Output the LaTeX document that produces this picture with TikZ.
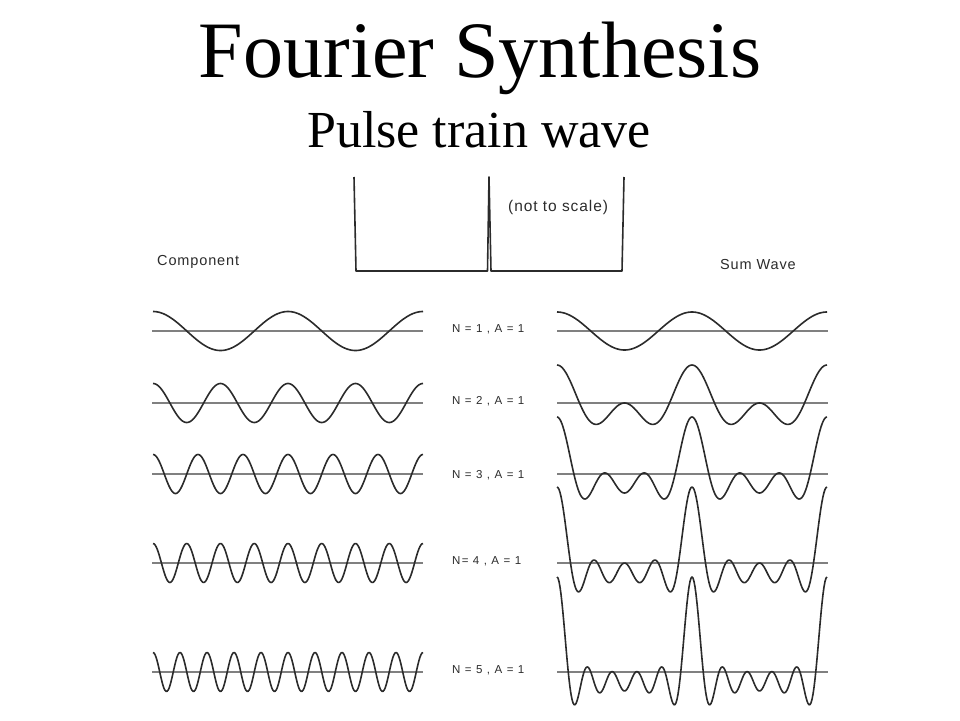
\documentclass[tikz,border=0pt]{standalone}
\usepackage{fontspec}
\setmainfont{Liberation Serif}
\newfontfamily\scanfont[LetterSpace=6]{Liberation Sans}
\newfontfamily\rowfont[LetterSpace=11]{Liberation Sans}
\usepackage{tikz}

\definecolor{ink}{HTML}{2B2B2B}
\definecolor{axisgray}{HTML}{808080}

\begin{document}
\begin{tikzpicture}[x=1pt,y=-1pt]
\tikzset{wave/.style={draw=ink, line width=1.6pt, line join=round},
  axisline/.style={draw=axisgray, line width=1.1pt},
  scanlabel/.style={font=\scanfont\fontsize{14.5}{16}\selectfont, text=ink, inner sep=0pt, anchor=west},
  rowlabel/.style={font=\rowfont\fontsize{11.5}{13}\selectfont, text=ink, inner sep=0pt, anchor=west},
  declare function={fsum(\t,\m)=cos(\t)+(\m>1)*cos(2*\t)+(\m>2)*cos(3*\t)+(\m>3)*cos(4*\t)+(\m>4)*cos(5*\t);}}
\useasboundingbox (0,0) rectangle (960,720);
\node[font=\fontsize{80}{90}\selectfont, anchor=base, inner sep=0pt] (title) at (480,77) {Fourier Synthesis};
\node[font=\fontsize{52}{60}\selectfont, anchor=base, inner sep=0pt] (subtitle) at (479,147) {Pulse train wave};

\draw[wave] (354,177) -- (356,271) -- (487.5,271) -- (489,177) -- (491,271) -- (622,271) -- (624,177);
\node[scanlabel, font=\scanfont\fontsize{15.5}{17}\selectfont] (noscale) at (508,207) {(not to scale)};
\node[scanlabel] (component) at (157,262) {Component};
\node[scanlabel] (sumwave) at (720,265) {Sum Wave};

\foreach \n/\ay/\ly/\txt in {1/331/329/{N = 1 , A = 1}, 2/403/401/{N = 2 , A = 1},
    3/474/475/{N = 3 , A = 1}, 4/563/561/{N= 4 , A = 1}, 5/672/670/{N = 5 , A = 1}} {
  \draw[axisline] (152,\ay) -- (423,\ay);
  \draw[axisline] (557,\ay) -- (828,\ay);
  \draw[wave] plot[domain=153:423, samples=271] (\x, {\ay - 19.5*cos((\x-153)/135*360*\n)});
  \draw[wave] plot[domain=557:827, samples=271] (\x, {\ay - 19*fsum((\x-557)/135*360, \n)});
  \node[rowlabel] (row\n) at (452,\ly) {\txt};
}
\end{tikzpicture}
\end{document}
